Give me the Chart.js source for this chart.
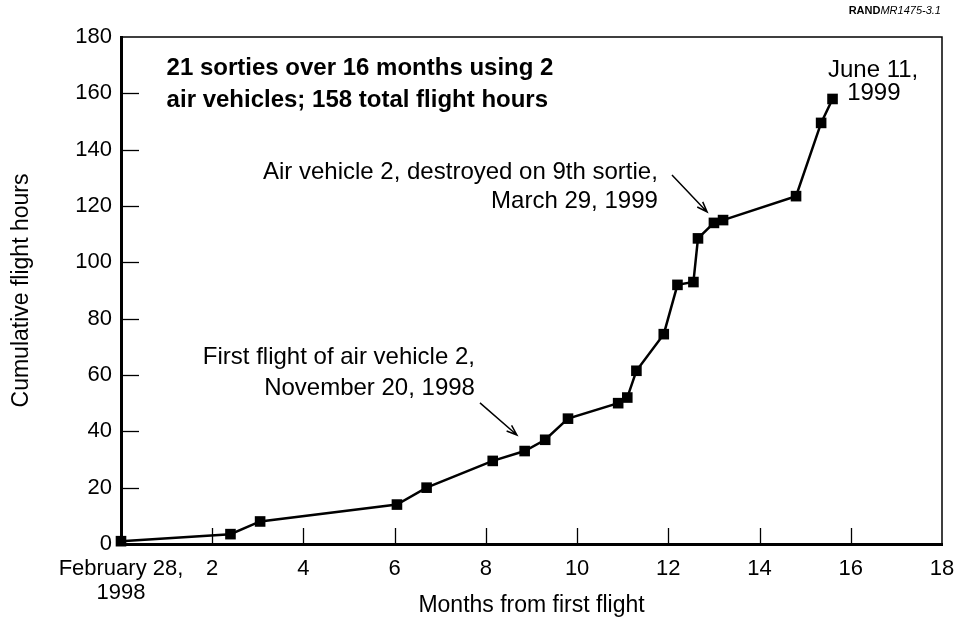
<!DOCTYPE html>
<html>
<head>
<meta charset="utf-8">
<title>Cumulative flight hours</title>
<script src="https://cdn.jsdelivr.net/npm/chart.js@4.4.1/dist/chart.umd.min.js"></script>
<style>
    html, body { margin: 0; padding: 0; background: #fff; }
    #wrap { position: relative; width: 959px; height: 619px; }
    #tag {
        position: absolute; right: 18px; top: 4px;
        font-family: "Liberation Sans", Arial, sans-serif; font-size: 11px; color: #000;
    }
</style>
</head>
<body>
<div id="wrap">
    <canvas id="flightChart"></canvas>
    <div id="tag"><b>RAND</b><i>MR1475-3.1</i></div>
</div>
<script>
// --- Data ---
const sortieMonths = [0, 2.4, 3.05, 6.05, 6.7, 8.15, 8.85, 9.3, 9.8, 10.9, 11.1, 11.3, 11.9, 12.2, 12.55, 12.65, 13.0, 13.2, 14.8, 15.35, 15.6];
const cumulativeHours = [1, 3.5, 8, 14, 20, 29.5, 33, 37, 44.5, 50, 52, 61.5, 74.5, 92, 93, 108.5, 114, 115, 123.5, 149.5, 158];
const firstTickLabel = ['February 28,', '1998'];
const xTitle = 'Months from first flight';
const yTitle = 'Cumulative flight hours';

// annotation text, anchored in data units
const notes = [
    { text: '21 sorties over 16 months using 2', x: 1.0, y: 169, align: 'left', bold: true },
    { text: 'air vehicles; 158 total flight hours', x: 1.0, y: 157.6, align: 'left', bold: true },
    { text: 'Air vehicle 2, destroyed on 9th sortie,', x: 11.77, y: 132.1, align: 'right' },
    { text: 'March 29, 1999', x: 11.77, y: 121.8, align: 'right' },
    { text: 'First flight of air vehicle 2,', x: 7.76, y: 66.4, align: 'right' },
    { text: 'November 20, 1998', x: 7.76, y: 55.4, align: 'right' },
    { text: 'June 11,', x: 15.5, y: 168.3, align: 'left' },
    { text: '1999', x: 15.92, y: 160.1, align: 'left' }
];
const arrows = [
    { from: [12.08, 131.0], to: [12.85, 117.9] },
    { from: [7.87, 50.1], to: [8.68, 38.7] }
];

const FONT = '"Liberation Sans", Arial, Helvetica, sans-serif';
Chart.defaults.font.family = FONT;
Chart.defaults.color = '#000';

// inward ticks, thin top/right frame, notes and arrows
const framePlugin = {
    id: 'frame',
    afterDatasetsDraw(chart) {
        const { ctx, chartArea: a, scales: { x, y } } = chart;
        ctx.save();
        ctx.strokeStyle = '#000';

        // top + right frame
        ctx.lineWidth = 1.5;
        ctx.beginPath();
        ctx.moveTo(a.left, a.top);
        ctx.lineTo(a.right, a.top);
        ctx.lineTo(a.right, a.bottom);
        ctx.stroke();

        // inward ticks
        ctx.lineWidth = 1.3;
        y.ticks.forEach(t => {
            if (t.value <= y.min || t.value >= y.max) return;
            const py = Math.round(y.getPixelForValue(t.value)) + 0.5;
            ctx.beginPath();
            ctx.moveTo(a.left, py);
            ctx.lineTo(a.left + 18, py);
            ctx.stroke();
        });
        x.ticks.forEach(t => {
            if (t.value <= x.min || t.value >= x.max) return;
            const px = Math.round(x.getPixelForValue(t.value)) + 0.5;
            ctx.beginPath();
            ctx.moveTo(px, a.bottom);
            ctx.lineTo(px, a.bottom - 16);
            ctx.stroke();
        });

        // text notes
        ctx.fillStyle = '#000';
        ctx.textBaseline = 'middle';
        notes.forEach(n => {
            ctx.font = (n.bold ? 'bold 24px ' : '24px ') + FONT;
            ctx.textAlign = n.align;
            ctx.fillText(n.text, x.getPixelForValue(n.x), y.getPixelForValue(n.y));
        });

        // arrows with open heads
        ctx.lineWidth = 1.5;
        arrows.forEach(ar => {
            const x1 = x.getPixelForValue(ar.from[0]), y1 = y.getPixelForValue(ar.from[1]);
            const x2 = x.getPixelForValue(ar.to[0]), y2 = y.getPixelForValue(ar.to[1]);
            const ang = Math.atan2(y2 - y1, x2 - x1);
            ctx.beginPath();
            ctx.moveTo(x1, y1);
            ctx.lineTo(x2, y2);
            ctx.moveTo(x2 - 11 * Math.cos(ang - 0.35), y2 - 11 * Math.sin(ang - 0.35));
            ctx.lineTo(x2, y2);
            ctx.lineTo(x2 - 11 * Math.cos(ang + 0.35), y2 - 11 * Math.sin(ang + 0.35));
            ctx.stroke();
        });
        ctx.restore();
    }
};

const ctx = document.getElementById('flightChart').getContext('2d');
new Chart(ctx, {
    type: 'scatter',
    data: {
        datasets: [{
            data: sortieMonths.map((m, i) => ({ x: m, y: cumulativeHours[i] })),
            showLine: true,
            borderColor: '#000',
            borderWidth: 2.5,
            backgroundColor: '#000',
            pointStyle: 'rect',
            pointRadius: 7.5,
            pointBorderWidth: 0,
            pointBackgroundColor: '#000',
            clip: false
        }]
    },
    options: {
        responsive: true,
        maintainAspectRatio: false,
        animation: false,
        layout: { padding: { top: 37, right: 17, left: 0, bottom: 0 } },
        plugins: {
            legend: { display: false },
            tooltip: { enabled: false }
        },
        scales: {
            x: {
                type: 'linear',
                min: 0,
                max: 18,
                afterFit: s => { s.height = 75; s.paddingLeft = 0; s.paddingRight = 0; },
                grid: { display: false, drawTicks: false },
                border: { display: true, width: 3, color: '#000' },
                ticks: {
                    stepSize: 2,
                    autoSkip: false,
                    padding: 13,
                    maxRotation: 0,
                    color: '#000',
                    font: { size: 22, lineHeight: 1.1 },
                    callback: v => (v === 0 ? firstTickLabel : v)
                },
                title: {
                    display: true,
                    text: xTitle,
                    color: '#000',
                    font: { size: 23 },
                    padding: { top: 0, bottom: 0 }
                }
            },
            y: {
                min: 0,
                max: 180,
                afterFit: s => { s.width = 121; },
                grid: { display: false, drawTicks: false },
                border: { display: true, width: 3, color: '#000' },
                ticks: {
                    stepSize: 20,
                    padding: 9,
                    color: '#000',
                    font: { size: 22 }
                },
                title: {
                    display: true,
                    text: yTitle,
                    color: '#000',
                    font: { size: 23 },
                    padding: { top: 8, bottom: 0 }
                }
            }
        }
    },
    plugins: [framePlugin]
});
</script>
</body>
</html>
